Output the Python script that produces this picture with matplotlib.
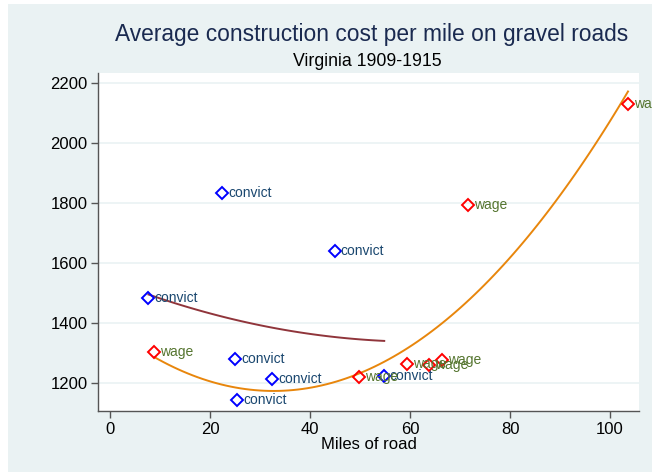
import numpy as np
import matplotlib
matplotlib.use("Agg")
import matplotlib.pyplot as plt
from matplotlib.patches import Rectangle

plt.rcParams['font.family'] = ['Liberation Sans', 'DejaVu Sans']

convict_miles = [22.4, 45.0, 7.6, 25.0, 32.4, 25.4, 54.8]
convict_cost = [1833, 1640, 1483, 1280, 1213, 1143, 1223]
wage_miles = [8.8, 71.6, 103.6, 49.8, 59.4, 63.8, 66.4]
wage_cost = [1303, 1793, 2130, 1220, 1263, 1260, 1277]
xticks = [0, 20, 40, 60, 80, 100]
yticks = [1200, 1400, 1600, 1800, 2000, 2200]

BG = '#eaf2f3'
W, H = 652, 472
fig = plt.figure(figsize=(W / 100, H / 100), dpi=100)
fig.patch.set_facecolor('white')
fig.patches.append(Rectangle((8 / W, 0), 1, 1 - 4 / H, transform=fig.transFigure,
                             facecolor=BG, edgecolor='none', zorder=-10))

ax = fig.add_axes([98.5 / W, (H - 411) / H, (639 - 98.5) / W, (411 - 73) / H])
ax.set_facecolor('white')
ax.set_xlim(-2.4, 105.8)
ax.set_ylim(1107, 2233)

for y in yticks:
    ax.axhline(y, color=BG, lw=1.2, zorder=0)

ax.plot(convict_miles, convict_cost, linestyle='none', marker='D', markersize=6,
        markerfacecolor='none', markeredgecolor='#0000ff', markeredgewidth=1.4, zorder=3)
ax.plot(wage_miles, wage_cost, linestyle='none', marker='D', markersize=6,
        markerfacecolor='none', markeredgecolor='#ff0000', markeredgewidth=1.4, zorder=3)

for x, y in zip(convict_miles, convict_cost):
    ax.annotate('convict', (x, y), xytext=(4, 0), textcoords='offset points',
                va='center', ha='left', fontsize=10, color='#1a476f', zorder=4)
for x, y in zip(wage_miles, wage_cost):
    ax.annotate('wage', (x, y), xytext=(4, 0), textcoords='offset points',
                va='center', ha='left', fontsize=10, color='#55752f', zorder=4,
                annotation_clip=False)

cc = np.polyfit(convict_miles, convict_cost, 2)
xc = np.linspace(min(convict_miles), max(convict_miles), 100)
ax.plot(xc, np.polyval(cc, xc), color='#90353b', lw=1.4, zorder=2)
cw = np.polyfit(wage_miles, wage_cost, 2)
xw = np.linspace(min(wage_miles), max(wage_miles), 100)
ax.plot(xw, np.polyval(cw, xw), color='#e8860c', lw=1.4, zorder=2)

for s in ['top', 'right']:
    ax.spines[s].set_visible(False)
for s in ['left', 'bottom']:
    ax.spines[s].set_color('#555555')
    ax.spines[s].set_linewidth(1.0)
ax.set_xticks(xticks)
ax.set_yticks(yticks)
ax.tick_params(axis='both', direction='out', length=5, width=1, color='#555555',
               labelsize=12, labelcolor='black', pad=3)
ax.set_xlabel('Miles of road', fontsize=12, labelpad=0)

fig.text(371.5 / W, 1 - 35 / H, 'Average construction cost per mile on gravel roads',
         ha='center', va='center', fontsize=16.4, color='#1a2a50')
fig.text(367.5 / W, 1 - 61 / H, 'Virginia 1909-1915',
         ha='center', va='center', fontsize=12.8, color='black')

fig.savefig('out.png', dpi=100, facecolor=fig.get_facecolor())
